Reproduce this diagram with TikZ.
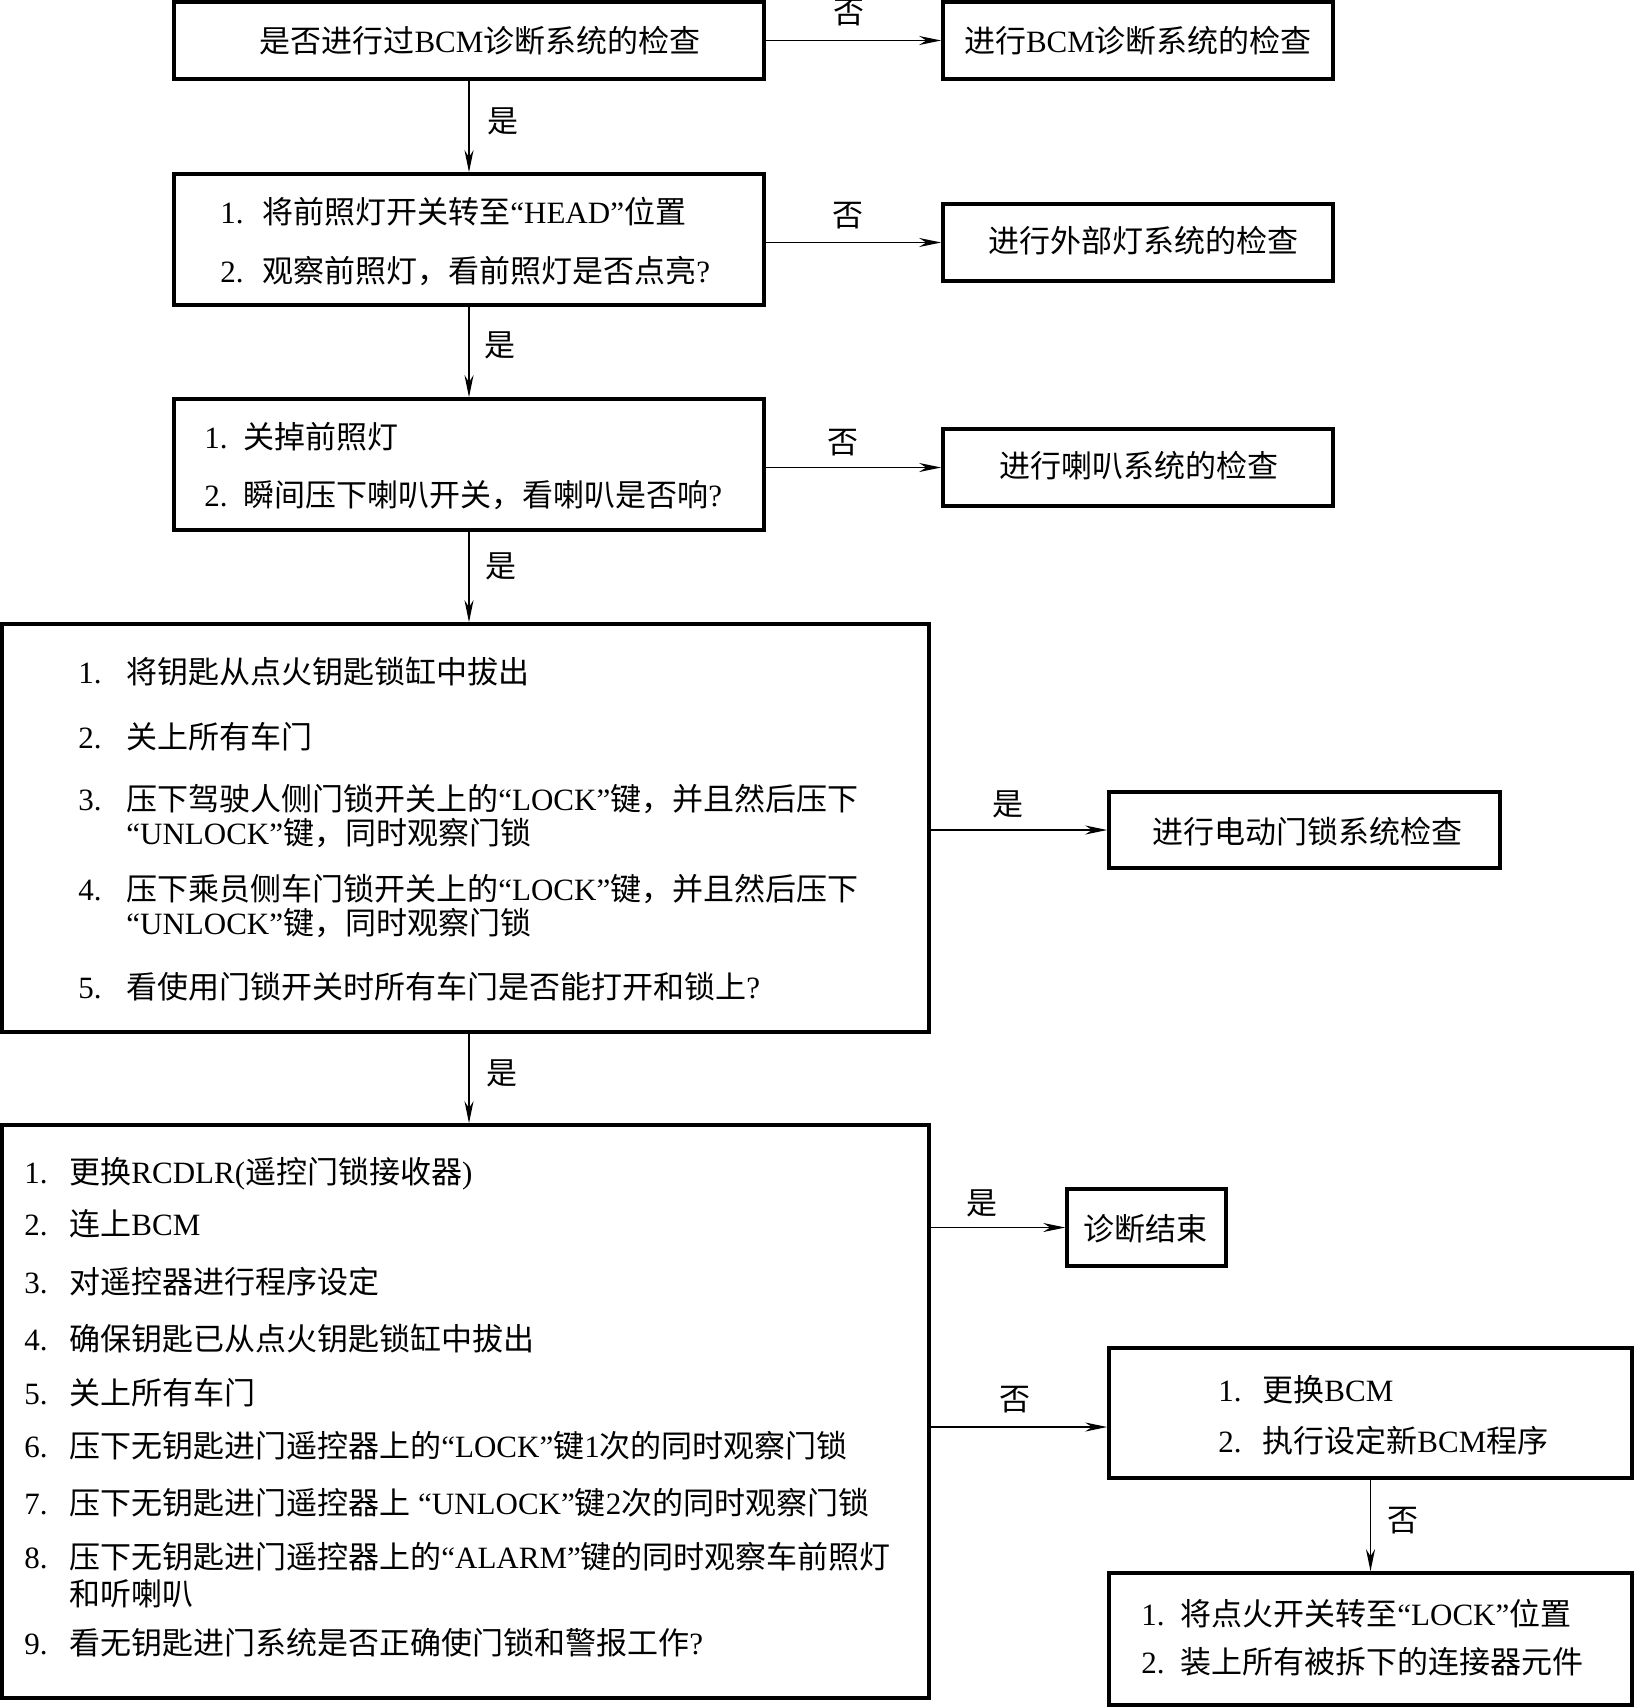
\documentclass[tikz,border=0pt]{standalone}
\usepackage{fontspec}
\setmainfont{Noto Sans CJK SC}
\newfontfamily\lat{Liberation Serif}
\usetikzlibrary{arrows.meta,fit}
\newcommand\itm[3]{\makebox[#1][l]{\lat #2}#3}
\newcommand\la[1]{{\lat #1}}
\begin{document}
\begin{tikzpicture}[x=0.5pt,y=-0.5pt,
  font=\fontsize{15.5pt}{18pt}\selectfont,
  box/.style={draw,line width=1.8pt,inner sep=0pt,rectangle},
  txt/.style={inner sep=0pt,anchor=west},
  ctr/.style={inner sep=0pt},
  lbl/.style={inner sep=0pt},
  arrl/.style={line width=0.8pt,-{Stealth[length=11pt,width=4.5pt,inset=3.5pt]}},
  arrthin/.style={line width=0.5pt,-{Stealth[length=11pt,width=4.5pt,inset=3.5pt]}}]
\useasboundingbox (0,0) rectangle (1633,1707);
\fill[white] (0,0) rectangle (1633,1707);
% boxes
\node[box,fit={(174,2)(764,79)}] (b1) {};
\node[box,fit={(943,2)(1333,79)}] (b2) {};
\node[box,fit={(174,174)(764,305)}] (b3) {};
\node[box,fit={(943,204)(1333,281)}] (b4) {};
\node[box,fit={(174,399)(764,530)}] (b5) {};
\node[box,fit={(943,429)(1333,506)}] (b6) {};
\node[box,fit={(2,624)(929,1032)}] (b7) {};
\node[box,fit={(1109,792)(1500,868)}] (b8) {};
\node[box,fit={(2,1125)(929,1698)}] (b9) {};
\node[box,fit={(1067,1189)(1226,1266)}] (be) {};
\node[box,fit={(1109,1348)(1632,1478)}] (b11) {};
\node[box,fit={(1109,1573)(1632,1705)}] (b12) {};
% texts
\node[ctr] (t1) at (480,41) {是否进行过\la{BCM}诊断系统的检查};
\node[ctr] (t2) at (1138,41) {进行\la{BCM}诊断系统的检查};
\node[txt] (t3a) at (220,212) {\itm{21pt}{1.}{将前照灯开关转至\la{“HEAD”}位置}};
\node[txt] (t3b) at (220,271) {\itm{21pt}{2.}{观察前照灯，看前照灯是否点亮\la{?}}};
\node[ctr] (t4) at (1143,241) {进行外部灯系统的检查};
\node[txt] (t5a) at (204,437) {\itm{19.5pt}{1.}{关掉前照灯}};
\node[txt] (t5b) at (204,495) {\itm{19.5pt}{2.}{瞬间压下喇叭开关，看喇叭是否响\la{?}}};
\node[ctr] (t6) at (1139,466) {进行喇叭系统的检查};
\node[txt] (t7a) at (78,672) {\itm{24pt}{1.}{将钥匙从点火钥匙锁缸中拔出}};
\node[txt] (t7b) at (78,737) {\itm{24pt}{2.}{关上所有车门}};
\node[txt] (t7c) at (78,799) {\itm{24pt}{3.}{压下驾驶人侧门锁开关上的\la{“LOCK”}键，并且然后压下}};
\node[txt] (t7d) at (126,833) {\la{“UNLOCK”}键，同时观察门锁};
\node[txt] (t7e) at (78,889) {\itm{24pt}{4.}{压下乘员侧车门锁开关上的\la{“LOCK”}键，并且然后压下}};
\node[txt] (t7f) at (126,923) {\la{“UNLOCK”}键，同时观察门锁};
\node[txt] (t7g) at (78,987) {\itm{24pt}{5.}{看使用门锁开关时所有车门是否能打开和锁上\la{?}}};
\node[ctr] (t8) at (1307,832) {进行电动门锁系统检查};
\node[txt] (t9a) at (24,1174) {\itm{22.5pt}{1.}{更换\la{RCDLR(}遥控门锁接收器\la{)}}};
\node[txt] (t9b) at (24,1224) {\itm{22.5pt}{2.}{连上\la{BCM}}};
\node[txt] (t9c) at (24,1282) {\itm{22.5pt}{3.}{对遥控器进行程序设定}};
\node[txt] (t9d) at (24,1339) {\itm{22.5pt}{4.}{确保钥匙已从点火钥匙锁缸中拔出}};
\node[txt] (t9e) at (24,1393) {\itm{22.5pt}{5.}{关上所有车门}};
\node[txt] (t9f) at (24,1446) {\itm{22.5pt}{6.}{压下无钥匙进门遥控器上的\la{“LOCK”}键\la{1}次的同时观察门锁}};
\node[txt] (t9g) at (24,1503) {\itm{22.5pt}{7.}{压下无钥匙进门遥控器上\la{ “UNLOCK”}键\la{2}次的同时观察门锁}};
\node[txt] (t9h) at (24,1557) {\itm{22.5pt}{8.}{压下无钥匙进门遥控器上的\la{“ALARM”}键的同时观察车前照灯}};
\node[txt] (t9i) at (69,1594) {和听喇叭};
\node[txt] (t9j) at (24,1643) {\itm{22.5pt}{9.}{看无钥匙进门系统是否正确使门锁和警报工作\la{?}}};
\node[ctr] (te) at (1145,1229) {诊断结束};
\node[txt] (t11a) at (1218,1390) {\itm{22pt}{1.}{更换\la{BCM}}};
\node[txt] (t11b) at (1218,1441) {\itm{22pt}{2.}{执行设定新\la{BCM}程序}};
\node[txt] (t12a) at (1141,1614) {\itm{19.5pt}{1.}{将点火开关转至\la{“LOCK”}位置}};
\node[txt] (t12b) at (1141,1662) {\itm{19.5pt}{2.}{装上所有被拆下的连接器元件}};
% labels
\node[lbl] (l1) at (849,13) {否};
\node[lbl] (l2) at (503,121) {是};
\node[lbl] (l3) at (848,216) {否};
\node[lbl] (l4) at (500,345) {是};
\node[lbl] (l5) at (843,443) {否};
\node[lbl] (l6) at (501,566) {是};
\node[lbl] (l7) at (1008,804) {是};
\node[lbl] (l8) at (502,1073) {是};
\node[lbl] (l9) at (982,1203) {是};
\node[lbl] (l10) at (1015,1400) {否};
\node[lbl] (l11) at (1403,1521) {否};
% connectors
\coordinate (c11) at ([yshift=-7pt]b11.west);
\draw[arrl] (b1) -- (b2);
\draw[arrl] (b1.south) -- (b3.north);
\draw[arrl] (b4.west -| b3.east) -- (b4.west);
\draw[arrl] (b3.south) -- (b5.north);
\draw[arrl] (b6.west -| b5.east) -- (b6.west);
\draw[arrl] (b5.south) -- (b5.south |- b7.north);
\draw[arrl] (b8.west -| b7.east) -- (b8.west);
\draw[arrl] (b7.south -| b5.south) -- (b9.north -| b5.south);
\draw[arrthin] (be.west -| b9.east) -- (be.west);
\draw[arrl] (c11 -| b9.east) -- (c11);
\draw[arrl] (b11.south) -- (b12.north);
\end{tikzpicture}
\end{document}
